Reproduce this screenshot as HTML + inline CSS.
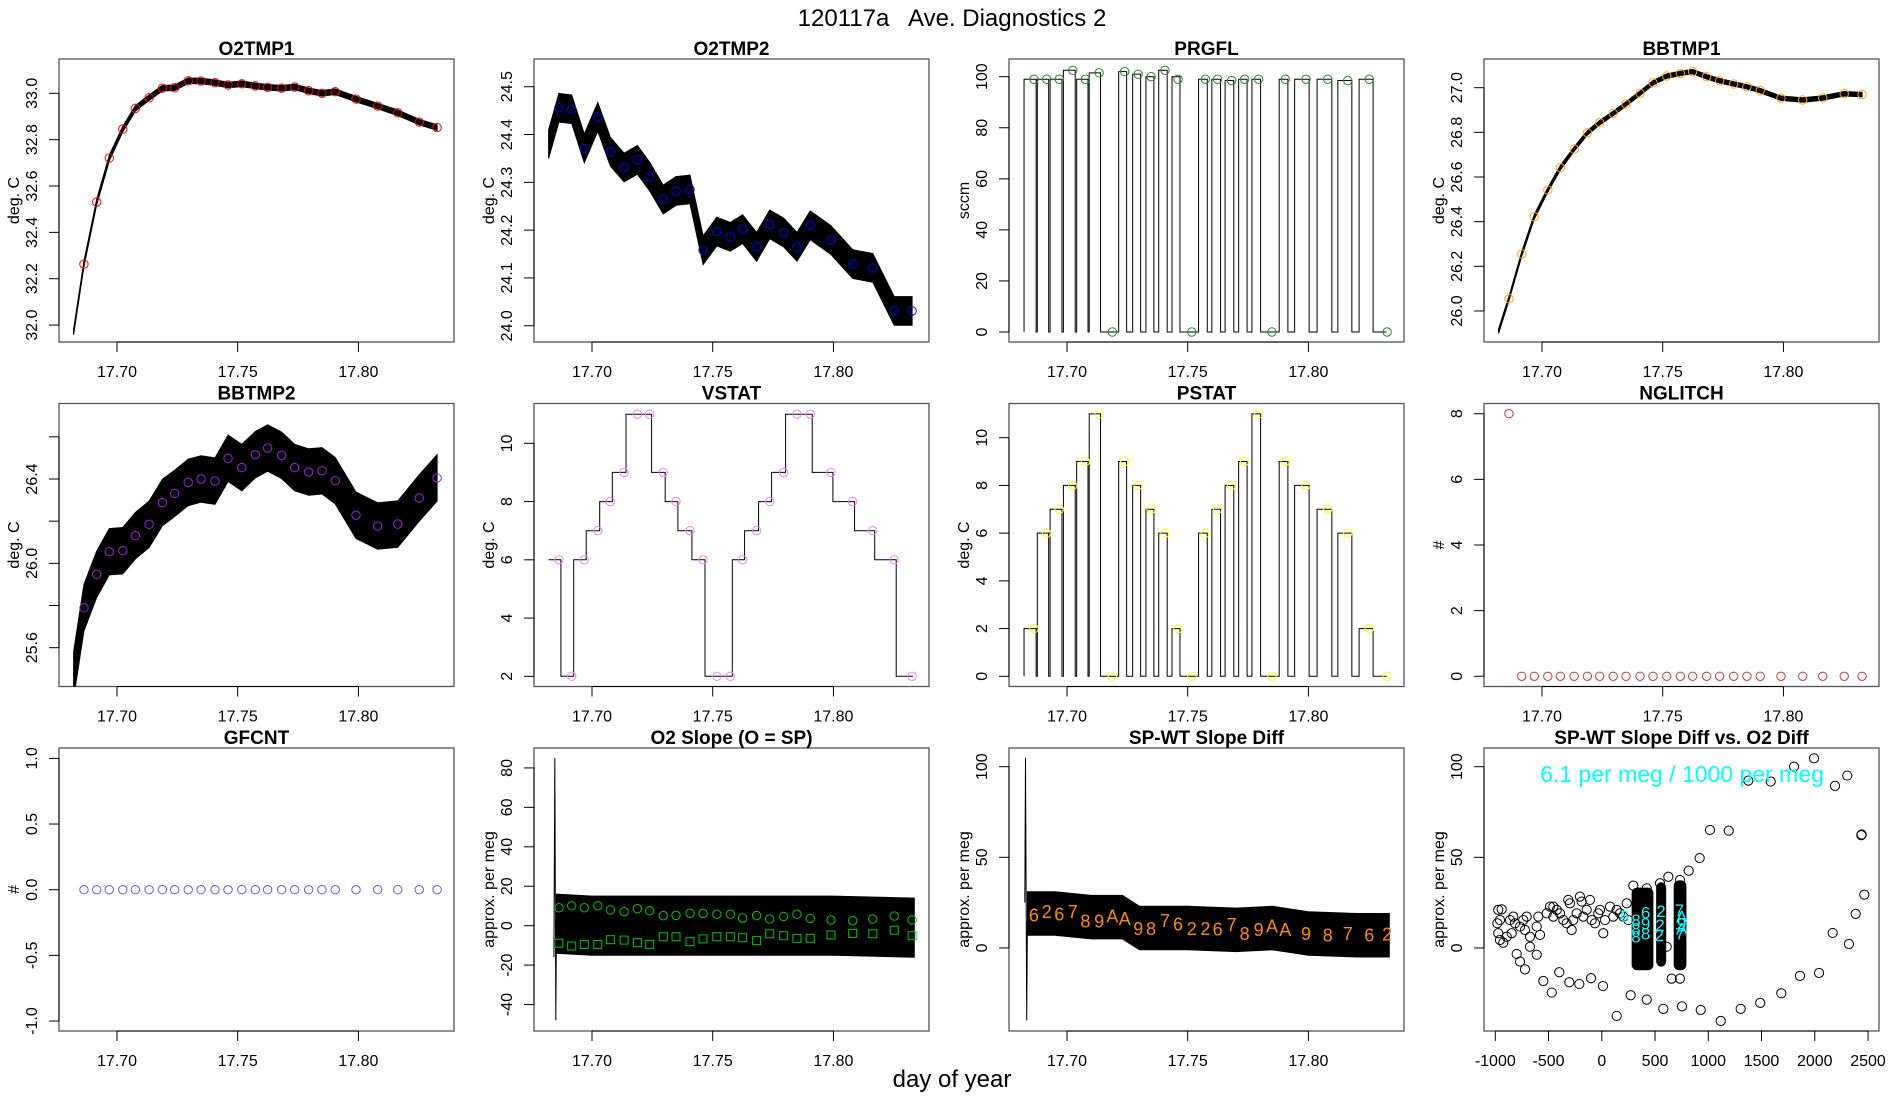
<!DOCTYPE html>
<html><head><meta charset="utf-8"><title>120117a Ave. Diagnostics 2</title>
<style>
html,body{margin:0;padding:0;background:#fff;}
svg{display:block;font-family:"Liberation Sans",Arial,sans-serif;}
</style></head>
<body>
<svg id="chart" xmlns="http://www.w3.org/2000/svg" width="1900" height="1100" viewBox="0 0 1900 1100">
<rect x="0" y="0" width="1900" height="1100" fill="#fff"/>
<text x="952" y="26" font-size="24" text-anchor="middle" xml:space="preserve" style="white-space:pre">120117a   Ave. Diagnostics 2</text>
<text x="952" y="1087" font-size="24" text-anchor="middle">day of year</text>
</svg>
<script>
// ---------- data ----------
const cycleTimes = [17.6863,17.6916,17.6968,17.7024,17.7076,17.7133,17.7188,17.7239,17.7295,17.7348,17.7406,17.7460,17.7517,17.7573,17.7624,17.7682,17.7736,17.7794,17.7849,17.7904,17.7990,17.8080,17.8163,17.8252,17.8326];
const timeTicks = [17.70,17.75,17.80];
const timeTickLabels = ["17.70","17.75","17.80"];

const o2tmp1Start = [17.682, 31.97];
const o2tmp1Values = [32.263,32.531,32.721,32.846,32.935,32.981,33.022,33.024,33.054,33.053,33.046,33.036,33.041,33.032,33.026,33.022,33.027,33.011,33.000,33.007,32.975,32.945,32.916,32.876,32.852];
const o2tmp1Noise = 0.012;
const o2tmp1Ticks = [32.0,32.2,32.4,32.6,32.8,33.0];
const o2tmp1TickLabels = ["32.0","32.2","32.4","32.6","32.8","33.0"];

const o2tmp2Start = [17.682, 24.38];
const o2tmp2Values = [24.456,24.453,24.371,24.437,24.364,24.331,24.347,24.312,24.264,24.282,24.285,24.158,24.197,24.186,24.202,24.165,24.212,24.195,24.165,24.210,24.179,24.129,24.121,24.031,24.031];
const o2tmp2Noise = 0.03;
const o2tmp2Ticks = [24.0,24.1,24.2,24.3,24.4,24.5];
const o2tmp2TickLabels = ["24.0","24.1","24.2","24.3","24.4","24.5"];

const pulseStarts = [17.6822,17.6877,17.6930,17.6985,17.7040,17.7092,17.7214,17.7272,17.7327,17.7380,17.7435,17.7545,17.7600,17.7655,17.7711,17.7766,17.7879,17.7943,17.8036,17.8122,17.8210];
const pulseEnds   = [17.6872,17.6924,17.6979,17.7034,17.7087,17.7139,17.7247,17.7305,17.7360,17.7415,17.7468,17.7581,17.7636,17.7691,17.7746,17.7802,17.7915,17.8003,17.8097,17.8180,17.8268];
const seriesEnd = 17.8324;
const prgflPulseLevels = [99,99,99,102.5,99,101.5,102,101,100,102.5,100,99,99,98.5,99,99,99,99,99,98.5,99];
const prgflValues = [99,99,99,102.5,99,101.5,0,102,101,100,102.5,99,0,99,99,98.5,99,99,0,99,99,99,98.5,99,0];
const prgflTicks = [0,20,40,60,80,100];
const prgflTickLabels = ["0","20","40","60","80","100"];

const bbtmp1Start = [17.682, 25.91];
const bbtmp1Values = [26.055,26.255,26.422,26.542,26.642,26.725,26.798,26.843,26.885,26.927,26.975,27.022,27.052,27.064,27.072,27.049,27.031,27.017,27.004,26.987,26.953,26.945,26.954,26.973,26.969];
const bbtmp1Noise = 0.01;
const bbtmp1Ticks = [26.0,26.2,26.4,26.6,26.8,27.0];
const bbtmp1TickLabels = ["26.0","26.2","26.4","26.6","26.8","27.0"];

const bbtmp2Start = [17.682, 25.47];
const bbtmp2Values = [25.789,25.948,26.055,26.060,26.131,26.185,26.288,26.332,26.384,26.400,26.390,26.498,26.454,26.515,26.547,26.512,26.454,26.433,26.439,26.392,26.228,26.177,26.186,26.310,26.405];
const bbtmp2Noise = 0.11;
const bbtmp2Ticks = [25.6,25.8,26.0,26.2,26.4,26.6];
const bbtmp2TickLabels = ["25.6","","26.0","","26.4",""];

const vstatValues = [6,2,6,7,8,9,11,11,9,8,7,6,2,2,6,7,8,9,11,11,9,8,7,6,2];
const vstatTicks = [2,4,6,8,10];
const vstatTickLabels = ["2","4","6","8","10"];

const pstatPulseLevels = [2,6,7,8,9,11,9,8,7,6,2,6,7,8,9,11,9,8,7,6,2];
const pstatValues = [2,6,7,8,9,11,0,9,8,7,6,2,0,6,7,8,9,11,0,9,8,7,6,2,0];
const pstatTicks = [0,2,4,6,8,10];
const pstatTickLabels = ["0","2","4","6","8","10"];

const nglitchValues = [8,0,0,0,0,0,0,0,0,0,0,0,0,0,0,0,0,0,0,0,0,0,0,0,0];
const nglitchTicks = [0,2,4,6,8];
const nglitchTickLabels = ["0","2","4","6","8"];

const gfcntValues = [0,0,0,0,0,0,0,0,0,0,0,0,0,0,0,0,0,0,0,0,0,0,0,0,0];
const gfcntTicks = [-1,-0.5,0,0.5,1];
const gfcntTickLabels = ["-1.0","-0.5","0.0","0.5","1.0"];

const o2slopeCircleValues = [9.1,10.1,9.1,10.1,8.0,7.1,8.6,7.6,5.1,5.2,6.3,6.2,5.8,5.8,3.9,5.1,3.4,4.7,5.8,3.7,2.9,2.5,3.4,4.9,2.9];
const o2slopeSquareValues = [-8.9,-10.3,-9.5,-9.5,-7.1,-7.3,-8.6,-9.5,-5.6,-5.6,-8.1,-6.7,-5.6,-5.6,-6.1,-7.6,-4.1,-5.1,-6.4,-6.4,-4.7,-3.9,-4.1,-2.3,-5.1];
const o2slopeSpikeT = [17.6842,17.6846,17.6850,17.6853];
const o2slopeSpikeV = [-16,85,-48,5];
const o2slopeBandT = [17.6853,17.7000,17.7250,17.7500,17.7750,17.8000,17.8335];
const o2slopeBandV = [1,0,0,0,0,0,-1];
const o2slopeNoise = 15;
const o2slopeTicks = [-40,-20,0,20,40,60,80];
const o2slopeTickLabels = ["-40","-20","0","20","40","60","80"];

const spwtLabelChars = ["6","2","6","7","8","9","A","A","9","8","7","6","2","2","6","7","8","9","A","A","9","8","7","6","2"];
const spwtLabelValues = [18.2,20.0,18.6,20.0,14.9,14.9,17.6,16.3,10.8,10.8,15.1,13.2,10.8,10.8,10.5,13.0,8.1,10.3,12.1,10.3,8.1,7.2,8.1,7.2,7.7];
const spwtSpikeT = [17.6825,17.6828,17.6833,17.6836];
const spwtSpikeV = [25,105,-40,15];
const spwtBandT = [17.6836,17.6950,17.7100,17.7230,17.7300,17.7500,17.7700,17.7850,17.8000,17.8200,17.8335];
const spwtBandV = [19,19,17,17,11,11,10,11,8,7,7];
const spwtNoise = 12;
const spwtTicks = [0,50,100];
const spwtTickLabels = ["0","50","100"];

const scatterX = [-972,-940,-956,-972,-956,-925,-893,-981,-862,-831,-815,-846,-768,-737,-705,-721,-674,-611,-596,-517,-486,-455,-423,-455,-392,-361,-330,-315,-299,-283,-268,-236,-205,-189,-174,-142,-111,-95,-64,-33,-17,14,30,77,108,140,171,202,234,249,
 -799,-768,-721,-674,-611,-580,-549,-470,-399,-305,-211,-101,11,271,422,578,753,929,140,1117,1304,1488,1686,1861,2040,2168,2321,2384,2465,2437,2440,
 816,919,1016,1192,1376,1586,1805,1993,2190,2305,656,734,609,625,734,547,296,422];
const scatterY = [21.0,21.3,15.4,8.1,4.4,2.9,6.2,13.6,15.4,17.3,13.6,8.1,11.8,15.4,17.3,9.9,6.2,11.8,17.3,19.1,22.8,22.8,21.0,17.3,19.1,15.4,13.6,26.5,24.6,9.9,15.4,19.1,28.3,25.6,17.3,21.0,26.5,15.4,13.6,19.1,21.0,8.1,15.4,22.8,17.3,21.0,19.1,17.3,24.6,15.4,
 -3.3,-7.5,-11.8,0.7,-3.7,7.2,-18.2,-24.6,-13.4,-18.9,-19.9,-16.7,-21.0,-26.1,-28.5,-33.6,-32.2,-34.2,-37.5,-40.3,-33.6,-30.3,-25.0,-15.4,-13.8,8.3,2.2,18.8,29.4,62.2,62.6,
 42.6,49.6,65.1,64.7,92.3,91.8,100.0,104.6,89.4,95.1,-16.9,-16.9,0.7,39.3,37.5,35.7,34.4,32.9];
const clusterXmin = [285,515,680];
const clusterXmax = [480,600,790];
const clusterYmin = [-12,-10,-12];
const clusterYmax = [33,36,37];
const cyanChars = ["6","6","2","7","A","A","2","2","8","8","8","9","8","7","9"];
const cyanX = [215,412,556,728,750,750,547,540,321,321,321,412,412,734,750];
const cyanY = [17.7,19.5,20.4,21.0,17.3,10.8,12.7,7.2,15.4,10.8,6.2,13.6,8.1,8.1,13.6];
const scatterXTicks = [-1000,-500,0,500,1000,1500,2000,2500];
const scatterXTickLabels = ["-1000","-500","0","500","1000","1500","2000","2500"];

// ---------- layout ----------
const NS = 'http://www.w3.org/2000/svg';
const svg = document.getElementById('chart');
const colLeft = [59,534,1009,1484];
const rowTop = [59,403.5,748];
const W = 395, H = 283;
const timeDom = [17.67597, 17.83960];
let clipId = 0;

function el(tag, attrs, parent){
  const e = document.createElementNS(NS, tag);
  for (const k in attrs) e.setAttribute(k, attrs[k]);
  (parent || svg).appendChild(e);
  return e;
}
function txt(parent, x, y, s, size, opts){
  const t = el('text', Object.assign({x:x, y:y, 'font-size':size, 'text-anchor':'middle'}, opts||{}), parent);
  t.textContent = s;
  return t;
}

function panel(name, col, row, title, ylab, ydom, yticks, ylabels, xdom, xticks, xlabels){
  const L = colLeft[col], T = rowTop[row];
  const g = el('g', {});
  
  
  const sx = v => L + (v - xdom[0]) / (xdom[1] - xdom[0]) * W;
  const sy = v => T + H - (v - ydom[0]) / (ydom[1] - ydom[0]) * H;
  const id = 'clip' + (clipId++);
  const cp = el('clipPath', {id:id}, g);
  el('rect', {x:L, y:T, width:W, height:H}, cp);
  const box = el('rect', {x:L, y:T, width:W, height:H, fill:'none', stroke:'#555', 'stroke-width':1.3}, g);
  
  
  const tt = txt(g, L + W/2, T - 4, title, 19, {'font-weight':'bold'});
  
  
  const ya = el('g', {}, g);
  
  
  el('line', {x1:L, x2:L, y1:sy(yticks[0]), y2:sy(yticks[yticks.length-1]), stroke:'#000', 'stroke-width':1}, ya);
  yticks.forEach((v,i) => {
    const y = sy(v);
    el('line', {x1:L-10, x2:L, y1:y, y2:y, stroke:'#000', 'stroke-width':1}, ya);
    if (ylabels[i]) {
      const lb = txt(ya, L-22, y, ylabels[i], 16, {transform:'rotate(-90 ' + (L-22) + ' ' + y + ')'});
      
      
    }
  });
  const yt = txt(g, L-40, T + H/2, ylab, 16, {transform:'rotate(-90 ' + (L-40) + ' ' + (T+H/2) + ')'});
  
  
  const xa = el('g', {}, g);
  
  
  el('line', {x1:sx(xticks[0]), x2:sx(xticks[xticks.length-1]), y1:T+H, y2:T+H, stroke:'#000', 'stroke-width':1}, xa);
  xticks.forEach((v,i) => {
    const x = sx(v);
    el('line', {x1:x, x2:x, y1:T+H, y2:T+H+10, stroke:'#000', 'stroke-width':1}, xa);
    const lb = txt(xa, x, T+H+35, xlabels[i], 16);
    
    
  });
  const data = el('g', {'clip-path':'url(#' + id + ')'}, g);
  
  
  return {g:data, sx:sx, sy:sy};
}

function band(p, ts, vs, half, name){
  const up = ts.map((t,i) => p.sx(t).toFixed(1) + ',' + p.sy(vs[i] + half).toFixed(1));
  const dn = ts.map((t,i) => p.sx(t).toFixed(1) + ',' + p.sy(vs[i] - half).toFixed(1)).reverse();
  const poly = el('polygon', {points: up.concat(dn).join(' '), fill:'#000', stroke:'#000', 'stroke-width':1}, p.g);
  
  
  const line = el('polyline', {points: ts.map((t,i) => p.sx(t).toFixed(1) + ',' + p.sy(vs[i]).toFixed(1)).join(' '), fill:'none', stroke:'#000', 'stroke-width':1.2}, p.g);
  
  
}
function polyline(p, ts, vs, name, w){
  const line = el('polyline', {points: ts.map((t,i) => p.sx(t).toFixed(1) + ',' + p.sy(vs[i]).toFixed(1)).join(' '), fill:'none', stroke:'#000', 'stroke-width':w||1}, p.g);
  
  
}
function circles(p, ts, vs, color, name, r){
  ts.forEach((t,i) => {
    const c = el('circle', {cx:p.sx(t), cy:p.sy(vs[i]), r:r||4.2, fill:'none', stroke:color, 'stroke-width':1}, p.g);
    
    
  });
}
function pulses(p, levels, name){
  let d = 'M' + p.sx(pulseStarts[0]) + ',' + p.sy(0);
  pulseStarts.forEach((s,i) => {
    d += ' L' + p.sx(s) + ',' + p.sy(0) + ' L' + p.sx(s) + ',' + p.sy(levels[i]) + ' L' + p.sx(pulseEnds[i]) + ',' + p.sy(levels[i]) + ' L' + p.sx(pulseEnds[i]) + ',' + p.sy(0);
  });
  d += ' L' + p.sx(seriesEnd) + ',' + p.sy(0);
  const path = el('path', {d:d, fill:'none', stroke:'#000', 'stroke-width':1}, p.g);
  
  
}

// ---------- panels ----------
let p = panel('o2tmp1', 0, 0, 'O2TMP1', 'deg. C', [31.927,33.148], o2tmp1Ticks, o2tmp1TickLabels, timeDom, timeTicks, timeTickLabels);
band(p, [o2tmp1Start[0]].concat(cycleTimes), [o2tmp1Start[1]].concat(o2tmp1Values), o2tmp1Noise, 'o2tmp1');
circles(p, cycleTimes, o2tmp1Values, '#ff0000', 'o2tmp1-cycle-mean');

p = panel('o2tmp2', 1, 0, 'O2TMP2', 'deg. C', [23.966,24.558], o2tmp2Ticks, o2tmp2TickLabels, timeDom, timeTicks, timeTickLabels);
band(p, [o2tmp2Start[0]].concat(cycleTimes), [o2tmp2Start[1]].concat(o2tmp2Values), o2tmp2Noise, 'o2tmp2');
circles(p, cycleTimes, o2tmp2Values, '#0000ff', 'o2tmp2-cycle-mean');

p = panel('prgfl', 2, 0, 'PRGFL', 'sccm', [-3.92,106.93], prgflTicks, prgflTickLabels, timeDom, timeTicks, timeTickLabels);
pulses(p, prgflPulseLevels, 'prgfl-line');
circles(p, cycleTimes, prgflValues, '#228b22', 'prgfl-cycle-mean');

p = panel('bbtmp1', 3, 0, 'BBTMP1', 'deg. C', [25.861,27.1285], bbtmp1Ticks, bbtmp1TickLabels, timeDom, timeTicks, timeTickLabels);
band(p, [bbtmp1Start[0]].concat(cycleTimes), [bbtmp1Start[1]].concat(bbtmp1Values), bbtmp1Noise, 'bbtmp1');
circles(p, cycleTimes, bbtmp1Values, '#ffa500', 'bbtmp1-cycle-mean');

p = panel('bbtmp2', 0, 1, 'BBTMP2', 'deg. C', [25.416,26.758], bbtmp2Ticks, bbtmp2TickLabels, timeDom, timeTicks, timeTickLabels);
band(p, [bbtmp2Start[0]].concat(cycleTimes), [bbtmp2Start[1]].concat(bbtmp2Values), bbtmp2Noise, 'bbtmp2');
circles(p, cycleTimes, bbtmp2Values, '#a020f0', 'bbtmp2-cycle-mean');

p = panel('vstat', 1, 1, 'VSTAT', 'deg. C', [1.65,11.367], vstatTicks, vstatTickLabels, timeDom, timeTicks, timeTickLabels);
(function(){
  const ts = [], vs = [];
  let prev = 17.682;
  vstatValues.forEach((v,i) => {
    const end = (i === vstatValues.length-1) ? cycleTimes[i] + 0.0004 : cycleTimes[i] + 0.0008;
    ts.push(prev, end); vs.push(v, v);
    prev = end;
  });
  polyline(p, ts, vs, 'vstat-line', 1);
})();
circles(p, cycleTimes, vstatValues, '#ee82ee', 'vstat-cycle-mean');

p = panel('pstat', 2, 1, 'PSTAT', 'deg. C', [-0.427,11.433], pstatTicks, pstatTickLabels, timeDom, timeTicks, timeTickLabels);
pulses(p, pstatPulseLevels, 'pstat-line');
circles(p, cycleTimes, pstatValues, '#ffff00', 'pstat-cycle-mean');

p = panel('nglitch', 3, 1, 'NGLITCH', '#', [-0.311,8.311], nglitchTicks, nglitchTickLabels, timeDom, timeTicks, timeTickLabels);
circles(p, cycleTimes, nglitchValues, '#c0393b', 'nglitch-point');

p = panel('gfcnt', 0, 2, 'GFCNT', '#', [-1.076,1.079], gfcntTicks, gfcntTickLabels, timeDom, timeTicks, timeTickLabels);
circles(p, cycleTimes, gfcntValues, '#6a5acd', 'gfcnt-point');

p = panel('o2-slope', 1, 2, 'O2 Slope (O = SP)', 'approx. per meg', [-53.4,90.1], o2slopeTicks, o2slopeTickLabels, timeDom, timeTicks, timeTickLabels);
band(p, o2slopeBandT, o2slopeBandV, o2slopeNoise, 'o2-slope');
polyline(p, o2slopeSpikeT, o2slopeSpikeV, 'o2-slope-spike', 1);
circles(p, cycleTimes, o2slopeCircleValues, '#00cd00', 'o2-slope-sp-mean');
cycleTimes.forEach((t,i) => {
  const s = el('rect', {x:p.sx(t)-4, y:p.sy(o2slopeSquareValues[i])-4, width:8, height:8, fill:'none', stroke:'#00cd00', 'stroke-width':1}, p.g);
  
  
});

p = panel('spwt-diff', 2, 2, 'SP-WT Slope Diff', 'approx. per meg', [-45.8,110.3], spwtTicks, spwtTickLabels, timeDom, timeTicks, timeTickLabels);
band(p, spwtBandT, spwtBandV, spwtNoise, 'spwt-diff');
polyline(p, spwtSpikeT, spwtSpikeV, 'spwt-diff-spike', 1);
cycleTimes.forEach((t,i) => {
  const lb = txt(p.g, p.sx(t), p.sy(spwtLabelValues[i]) + 6.5, spwtLabelChars[i], 18, {fill:'#ff8c00'});
  
  
});

p = panel('spwt-vs-o2', 3, 2, 'SP-WT Slope Diff vs. O2 Diff', 'approx. per meg', [-45.8,110.3], spwtTicks, spwtTickLabels, [-1106,2603], scatterXTicks, scatterXTickLabels);
scatterX.forEach((x,i) => {
  const c = el('circle', {cx:p.sx(x), cy:p.sy(scatterY[i]), r:4.6, fill:'none', stroke:'#000', 'stroke-width':1}, p.g);
  
  
});
clusterXmin.forEach((x0,i) => {
  const r = el('rect', {x:p.sx(x0), y:p.sy(clusterYmax[i]), width:p.sx(clusterXmax[i])-p.sx(x0), height:p.sy(clusterYmin[i])-p.sy(clusterYmax[i]), rx:5, fill:'#000', stroke:'#000', 'stroke-width':1}, p.g);
  
  
});
cyanChars.forEach((ch,i) => {
  const lb = txt(p.g, p.sx(cyanX[i]), p.sy(cyanY[i]) + 6, ch, 17, {fill:'#00ffff'});
  
  
});
const ann = txt(svg, 1682, 782, '6.1 per meg / 1000 per meg', 23, {fill:'#00ffff'});


</script>
</body></html>
